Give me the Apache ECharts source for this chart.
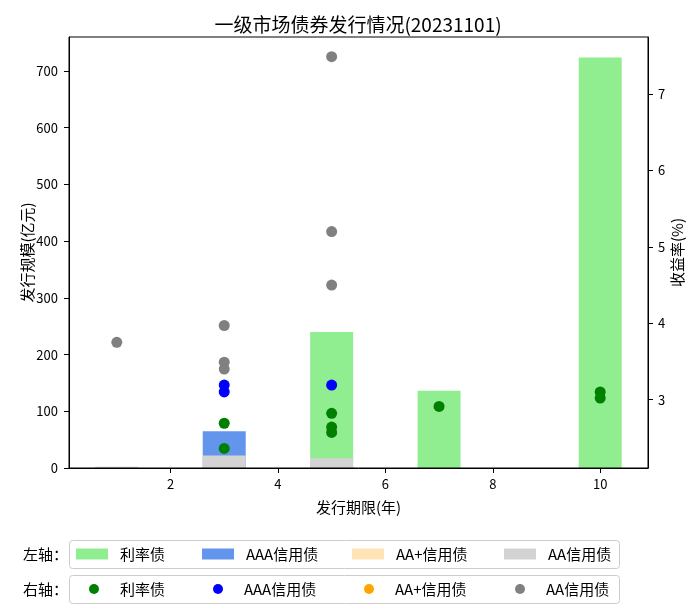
<!DOCTYPE html>
<html>
<head>
<meta charset="utf-8">
<script src="https://cdn.jsdelivr.net/npm/echarts@6/dist/echarts.min.js"></script>
<style>html,body{margin:0;padding:0;background:#fff}#c{width:700px;height:615px}</style>
</head>
<body>
<div id="c"></div>
<script>
// ---- data ----
const title = '一级市场债券发行情况(20231101)';
const categoryNames = ['利率债', 'AAA信用债', 'AA+信用债', 'AA信用债'];
// bars (left axis, 亿元): [期限, 规模]
const barRate = [[5, 240], [7, 136], [10, 724]];
const barAAA = [[3, 65]];
const barAAplus = [];
const barAA = [[1, 2], [3, 22], [5, 17]];
// points (right axis, %): [期限, 收益率]
const ptRate = [[3, 2.69], [3, 2.36], [5, 2.82], [5, 2.64], [5, 2.57], [7, 2.91], [10, 3.10], [10, 3.02]];
const ptAAA = [[3, 3.19], [3, 3.10], [5, 3.19]];
const ptAAplus = [];
const ptAA = [[1, 3.75], [3, 3.97], [3, 3.49], [3, 3.40], [5, 7.49], [5, 5.20], [5, 4.50]];
const xTicks = [2, 4, 6, 8, 10];
const yLeftTicks = [0, 100, 200, 300, 400, 500, 600, 700];
const yRightTicks = [3, 4, 5, 6, 7];

const barColors = ['#90EE90', '#6495ED', '#FFE4B5', '#D3D3D3'];
const dotColors = ['#008000', '#0000FF', '#FFA500', '#808080'];
const FONT = '"Noto Sans CJK SC", "DejaVu Sans", sans-serif';

const barData = [barRate, barAAA, barAAplus, barAA];
const ptData = [ptRate, ptAAA, ptAAplus, ptAA];

const series = [];
categoryNames.forEach((n, i) => {
  series.push({
    name: 'L_' + n, type: 'bar', data: barData[i], yAxisIndex: 0,
    barWidth: 43, barGap: '-100%', itemStyle: { color: barColors[i] },
    z: 2
  });
});
categoryNames.forEach((n, i) => {
  series.push({
    name: 'R_' + n, type: 'scatter', data: ptData[i], yAxisIndex: 1,
    symbolSize: 11, itemStyle: { color: dotColors[i], opacity: 1 }, z: 5
  });
});

// legend layout (one legend component per item)
const rectLefts = [76, 202, 352, 504];
const dotLefts = [89, 213, 364, 515];
const legends = [];
categoryNames.forEach((n, i) => {
  legends.push({
    left: rectLefts[i], top: 546, padding: 0, itemWidth: 32, itemHeight: 11,
    selectedMode: false,
    data: [{ name: 'L_' + n, icon: 'rect' }],
    formatter: (name) => name.slice(2),
    textStyle: { fontSize: 15, lineHeight: 16, color: '#000', fontFamily: FONT, padding: [0, 0, 0, 7] }
  });
  legends.push({
    left: dotLefts[i], top: 581, padding: 0, itemWidth: 32, itemHeight: 10,
    selectedMode: false,
    data: [{ name: 'R_' + n, icon: 'circle' }],
    formatter: (name) => name.slice(2),
    textStyle: { fontSize: 15, lineHeight: 16, color: '#000', fontFamily: FONT, padding: [0, 0, 0, 5] }
  });
});

const chart = echarts.init(document.getElementById('c'), null, { renderer: 'canvas' });
chart.setOption({
  animation: false,
  backgroundColor: '#fff',
  title: { text: title, left: 353, textAlign: 'center', top: 10, textStyle: { fontSize: 19, fontWeight: 'normal', color: '#000', fontFamily: FONT } },
  grid: { left: 69, right: 52, top: 37, bottom: 147, show: true, borderColor: '#000', borderWidth: 1, z: 10 },
  legend: legends,
  graphic: [
    { type: 'rect', shape: { x: 69.5, y: 540.5, width: 550, height: 28, r: 3 }, style: { fill: 'none', stroke: '#cccccc', lineWidth: 1 } },
    { type: 'rect', shape: { x: 69.5, y: 575.5, width: 550, height: 28, r: 3 }, style: { fill: 'none', stroke: '#cccccc', lineWidth: 1 } },
    { type: 'text', x: 23, y: 554, style: { text: '左轴：', fill: '#000', font: '15px ' + FONT, verticalAlign: 'middle' } },
    { type: 'text', x: 23, y: 589, style: { text: '右轴：', fill: '#000', font: '15px ' + FONT, verticalAlign: 'middle' } }
  ],
  xAxis: {
    type: 'value', min: 0.11, max: 10.89, z: 10,
    name: '发行期限(年)', nameLocation: 'middle', nameGap: 32, nameMoveOverlap: false,
    nameTextStyle: { fontSize: 15, color: '#000', fontFamily: FONT },
    axisLine: { show: true, lineStyle: { color: '#000' } },
    axisTick: { show: true, length: 5, lineStyle: { color: '#000' }, customValues: xTicks },
    axisLabel: { fontSize: 13, color: '#000', fontFamily: FONT, customValues: xTicks, margin: 10 },
    splitLine: { show: false }
  },
  yAxis: [
    {
      type: 'value', min: 0, max: 760, position: 'left', z: 10,
      name: '发行规模(亿元)', nameLocation: 'middle', nameGap: 34, nameRotate: 90, nameMoveOverlap: false,
      nameTextStyle: { fontSize: 15, color: '#000', fontFamily: FONT },
      axisLine: { show: true, lineStyle: { color: '#000' } },
      axisTick: { show: true, length: 5, lineStyle: { color: '#000' }, customValues: yLeftTicks },
      axisLabel: { fontSize: 13, color: '#000', fontFamily: FONT, customValues: yLeftTicks, margin: 11 },
      splitLine: { show: false }
    },
    {
      type: 'value', min: 2.104, max: 7.748, position: 'right', z: 10,
      name: '收益率(%)', nameLocation: 'middle', nameGap: 22, nameRotate: 90, nameMoveOverlap: false,
      nameTextStyle: { fontSize: 15, color: '#000', fontFamily: FONT },
      axisLine: { show: true, lineStyle: { color: '#000' } },
      axisTick: { show: true, length: 5, lineStyle: { color: '#000' }, customValues: yRightTicks },
      axisLabel: { fontSize: 13, color: '#000', fontFamily: FONT, customValues: yRightTicks, margin: 10 },
      splitLine: { show: false }
    }
  ],
  series: series
});
</script>
</body>
</html>
